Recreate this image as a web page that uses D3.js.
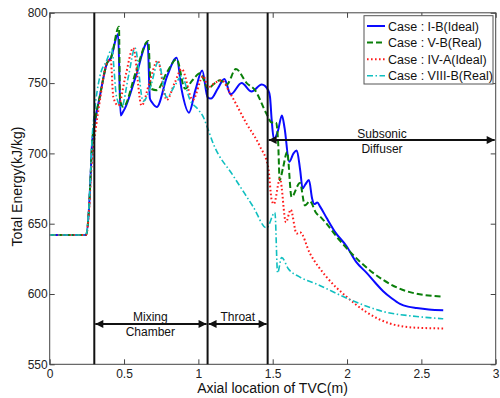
<!DOCTYPE html>
<html>
<head>
<meta charset="utf-8">
<script src="https://cdn.jsdelivr.net/npm/d3@7/dist/d3.min.js"></script>
<style>
  body { margin: 0; background: #fff; }
  svg { font-family: "Liberation Sans", Arial, sans-serif; }
</style>
</head>
<body>
<svg id="chart" width="500" height="398"></svg>
<script>
// series: [axial location (m), total energy (kJ/kg)]
const caseIB = [[0,642],[0.244,642],[0.266,664],[0.276,686],[0.285,707],[0.30,719],[0.338,741],[0.385,764],[0.412,768],
  [0.46,785],[0.477,727],[0.49,729],[0.506,732],[0.58,755],[0.659,779],[0.674,739],[0.69,736],[0.72,733],[0.79,755],
  [0.854,768],[0.888,745],[0.937,729],[0.98,745],[1.026,759],[1.062,740],[1.085,739],[1.13,746],[1.175,753],[1.217,742],
  [1.291,750],[1.358,744],[1.426,749],[1.47,745],[1.482,740],[1.493,724],[1.508,710],[1.535,716],[1.562,727],[1.58,718],
  [1.611,694],[1.64,700],[1.662,702],[1.685,688],[1.701,675],[1.72,678],[1.744,681],[1.765,668],[1.78,664],[1.80,665],
  [1.82,662],[1.863,654],[1.92,644],[1.997,634],[2.06,623],[2.132,615],[2.19,608],[2.243,602],[2.3,597],[2.356,593],
  [2.41,591],[2.468,590],[2.55,589],[2.647,588.5]];
const caseVB = [[0,642],[0.244,642],[0.266,664],[0.276,686],[0.285,707],[0.30,720],[0.338,741],[0.385,764],[0.412,768],
  [0.466,790],[0.473,738],[0.495,733],[0.58,758],[0.663,780],[0.681,746],[0.72,745],[0.79,758],[0.854,767],[0.91,746],
  [0.96,752],[1.011,757],[1.067,746],[1.10,749],[1.145,752],[1.19,749],[1.253,760],[1.325,750],[1.381,745],[1.459,728],
  [1.493,722],[1.522,722],[1.537,707],[1.547,681],[1.57,690],[1.597,701],[1.627,669],[1.683,679],[1.717,663],[1.75,666],
  [1.79,658],[1.829,654],[1.952,638],[2.087,623],[2.243,610],[2.4,602],[2.647,598]];
const caseIVA = [[0,642],[0.244,642],[0.266,662],[0.276,682],[0.29,702],[0.305,714],[0.338,738],[0.383,764],[0.41,767],
  [0.428,740],[0.461,734],[0.51,755],[0.562,775],[0.618,734],[0.67,750],[0.726,766],[0.787,738],[0.84,750],[0.888,760],
  [0.962,738],[1.033,755],[1.067,747],[1.11,750],[1.157,752],[1.212,743],[1.325,721],[1.414,705],[1.47,690],[1.493,667],
  [1.508,664],[1.549,682],[1.589,651],[1.621,660],[1.661,643],[1.683,644],[1.75,629],[1.863,612],[1.997,598],[2.132,587],
  [2.289,579],[2.468,576],[2.647,575.5]];
const caseVIIIB = [[0,642],[0.244,642],[0.266,666],[0.276,688],[0.285,710],[0.30,728],[0.338,755],[0.383,766],[0.417,774],
  [0.45,740],[0.484,733],[0.53,755],[0.574,775],[0.629,737],[0.68,748],[0.73,765],[0.787,740],[0.84,748],[0.888,755],
  [0.944,738],[1.0,731],[1.033,726],[1.062,718],[1.1,707],[1.235,684],[1.369,662],[1.459,647],[1.515,658],[1.533,615],
  [1.56,626],[1.605,618],[1.683,612],[1.796,607],[2.02,596],[2.243,587.5],[2.468,584],[2.647,582.4]];

const legendLabels = ['Case : I-B(Ideal)', 'Case : V-B(Real)', 'Case : IV-A(Ideal)', 'Case : VIII-B(Real)'];
const xTicks = [0, 0.5, 1, 1.5, 2, 2.5, 3];
const yTicks = [550, 600, 650, 700, 750, 800];
const sections = [0.30, 1.062, 1.466];   // section boundaries (m)
const arrowLevels = [578.7, 709.5];      // kJ/kg

const series = [
  { data: caseIB,    color: '#0a0aff', width: 2,   dash: null },
  { data: caseVB,    color: '#0a7f0a', width: 2,   dash: '6,3' },
  { data: caseIVA,   color: '#ff1a1a', width: 2,   dash: '1.6,2.4' },
  { data: caseVIIIB, color: '#10bfc0', width: 1.6, dash: '6,2.5,1.5,2.5' }
];

const svg = d3.select('#chart');
const x = d3.scaleLinear().domain([0, 3]).range([49.7, 495.7]);
const y = d3.scaleLinear().domain([550, 800]).range([364.3, 12.8]);

// axes, matlab style: ticks inside, box around
const axisColor = '#444';
function styleAxis(g) {
  g.select('.domain').remove();
  g.selectAll('line').attr('stroke', axisColor);
  g.selectAll('text').attr('fill', '#222').style('font-size', '12px');
}
svg.append('g').attr('transform', `translate(0,${y(550)})`)
  .call(d3.axisBottom(x).tickValues(xTicks).tickFormat(d3.format('')).tickSize(-5).tickPadding(5))
  .call(styleAxis);
svg.append('g').attr('transform', `translate(0,${y(800)})`)
  .call(d3.axisTop(x).tickValues(xTicks).tickFormat('').tickSize(-5))
  .call(styleAxis);
svg.append('g').attr('transform', `translate(${x(0)},0)`)
  .call(d3.axisLeft(y).tickValues(yTicks).tickSize(-5).tickPadding(2))
  .call(styleAxis);
svg.append('g').attr('transform', `translate(${x(3)},0)`)
  .call(d3.axisRight(y).tickValues(yTicks).tickFormat('').tickSize(-5))
  .call(styleAxis);
svg.append('rect')
  .attr('x', x(0)).attr('y', y(800))
  .attr('width', x(3) - x(0)).attr('height', y(550) - y(800))
  .attr('fill', 'none').attr('stroke', axisColor).attr('stroke-width', 1);

// curves
const line = d3.line().x(d => x(d[0])).y(d => y(d[1])).curve(d3.curveMonotoneX);
const plot = svg.append('g');
series.forEach(s => {
  plot.append('path').datum(s.data)
    .attr('d', line)
    .attr('fill', 'none')
    .attr('stroke', s.color)
    .attr('stroke-width', s.width)
    .attr('stroke-dasharray', s.dash)
    .attr('stroke-linejoin', 'round');
});

// section lines
sections.forEach(v => {
  svg.append('line')
    .attr('x1', x(v)).attr('x2', x(v))
    .attr('y1', y(800)).attr('y2', y(550))
    .attr('stroke', '#111').attr('stroke-width', 2);
});

// double arrows
const defs = svg.append('defs');
defs.append('marker').attr('id', 'head').attr('viewBox', '0 0 10 10')
  .attr('refX', 10).attr('refY', 5).attr('markerWidth', 9).attr('markerHeight', 8)
  .attr('markerUnits', 'userSpaceOnUse').attr('orient', 'auto-start-reverse')
  .append('path').attr('d', 'M0,0L10,5L0,10z').attr('fill', '#111');

function arrow(a, b, level) {
  svg.append('line')
    .attr('x1', x(a) + 1).attr('x2', x(b) - 1)
    .attr('y1', y(level)).attr('y2', y(level))
    .attr('stroke', '#111').attr('stroke-width', 2)
    .attr('marker-start', 'url(#head)').attr('marker-end', 'url(#head)');
}
arrow(sections[0], sections[1], arrowLevels[0]);
arrow(sections[1], sections[2], arrowLevels[0]);
arrow(sections[2], 3, arrowLevels[1]);

function note(lines, cx, baseline) {
  lines.forEach((t, i) => {
    svg.append('text').attr('x', cx).attr('y', baseline + i * 15.5)
      .attr('text-anchor', 'middle').style('font-size', '12px').attr('fill', '#111').text(t);
  });
}
note(['Mixing', 'Chamber'], x(0.677), 320.5);
note(['Throat'], x(1.265), 320.5);
note(['Subsonic', 'Diffuser'], 382, 137.5);

// axis labels
svg.append('text').attr('x', 272.5).attr('y', 393)
  .attr('text-anchor', 'middle').style('font-size', '14px').attr('fill', '#111')
  .text('Axial location of TVC(m)');
svg.append('text').attr('transform', 'translate(22,186.5) rotate(-90)')
  .attr('text-anchor', 'middle').style('font-size', '14px').attr('fill', '#111')
  .text('Total Energy(kJ/kg)');

// legend
const lg = svg.append('g');
lg.append('rect').attr('x', 364).attr('y', 15.7).attr('width', 129).attr('height', 68.3)
  .attr('fill', '#fff').attr('stroke', '#555').attr('stroke-width', 1);
series.forEach((s, i) => {
  const cy = 26 + i * 16.6;
  lg.append('line').attr('x1', 367).attr('x2', 385).attr('y1', cy).attr('y2', cy)
    .attr('stroke', s.color).attr('stroke-width', s.width).attr('stroke-dasharray', s.dash);
  lg.append('text').attr('x', 388).attr('y', cy + 4.5)
    .style('font-size', '12.5px').attr('fill', '#111').text(legendLabels[i]);
});
</script>
</body>
</html>
